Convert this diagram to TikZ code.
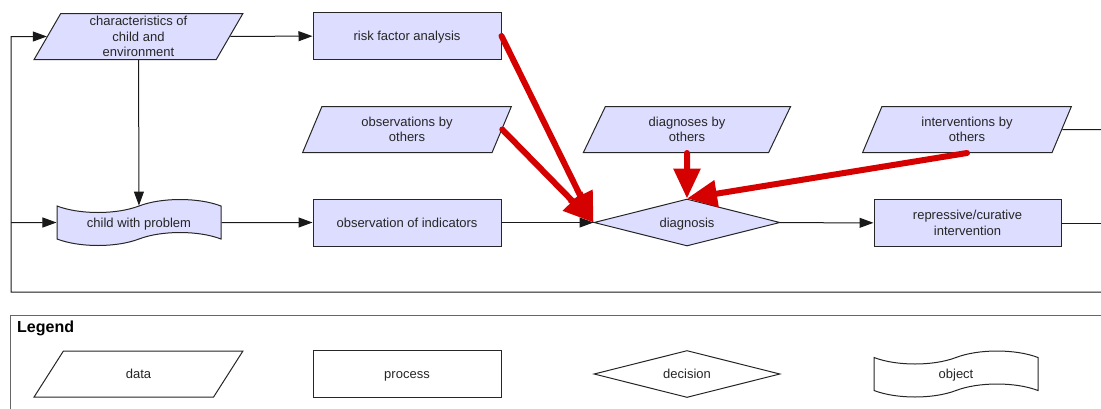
\documentclass[tikz,border=0pt]{standalone}
\usepackage{fontspec}
\setmainfont{Liberation Sans}
\usetikzlibrary{shapes.geometric,shapes.symbols,arrows.meta}
\definecolor{boxfill}{RGB}{221,221,255}
\definecolor{flowred}{RGB}{213,0,0}
\begin{document}
\begin{tikzpicture}[x=1pt,y=-1pt,
  every node/.style={font=\fontsize{13}{15.5}\selectfont, text=black!85, inner sep=0pt, align=center},
  oneline/.style={text height=10.5pt, text depth=1.5pt},
  shapeline/.style={draw=black!85, line width=1pt},
  datashape/.style={shapeline, trapezium, trapezium left angle=67.6, trapezium right angle=112.4,
    trapezium stretches=true, minimum width=209pt, minimum height=46pt},
  processshape/.style={shapeline, rectangle, minimum width=188pt, minimum height=47pt},
  decisionshape/.style={shapeline, diamond, aspect=4, minimum width=186pt, minimum height=47pt},
  objectshape/.style={shapeline, tape, tape bend top=in and out, tape bend bottom=in and out,
    tape bend height=13pt, minimum width=164pt, minimum height=46pt},
  filled/.style={fill=boxfill},
  blank/.style={fill=white},
  flow/.style={draw=black!90, line width=1pt, -{Triangle[length=14pt,width=10pt]}},
  plain/.style={draw=black!90, line width=1pt},
  redflow/.style={draw=flowred, line width=6pt, line cap=round, -{Triangle[length=30pt,width=26pt]}}
]
\useasboundingbox (0,0) rectangle (1101,408);
\clip (0,0) rectangle (1101,408);

% main flow
\node[datashape, filled] (char) at (138.5,36.5) {characteristics of\\child and\\environment};
\node[processshape, filled, oneline] (risk) at (407,36) {risk factor analysis};
\node[datashape, filled] (obsoth) at (407,129.5) {observations by\\others};
\node[datashape, filled] (diagoth) at (687,129.5) {diagnoses by\\others};
\node[datashape, filled] (intoth) at (967,129.5) {interventions by\\others};
\node[objectshape, filled, oneline] (child) at (139,222.5) {child with problem};
\node[processshape, filled, oneline] (obsind) at (407,222.5) {observation of indicators};
\node[decisionshape, filled, oneline] (diag) at (687,222.5) {diagnosis};
\node[processshape, filled, minimum width=187pt] (rep) at (967.5,223) {repressive/curative\\intervention};

% feedback loop and open ends
\coordinate (loopR) at (1101,292);
\coordinate (loopBL) at (11,292);
\coordinate (loopTL) at (11,36.5);
\coordinate (loopML) at (11,222.5);
\coordinate (intOut) at (1101,129.5);
\coordinate (repOut) at (1101,223);

\draw[flow] (loopR) -- (loopBL) -- (loopTL) -- (char);
\draw[flow] (loopML) -- (child);
\draw[flow] (char) -- (risk);
\draw[flow] (char) -- (child);
\draw[flow] (child) -- (obsind);
\draw[flow] (obsind) -- (diag);
\draw[flow] (diag) -- (rep);
\draw[plain] (rep) -- (repOut);
\draw[plain] (intoth) -- (intOut);

% inputs to the diagnosis
\draw[redflow] (risk.east) -- (diag.west);
\draw[redflow] (obsoth.east) -- (diag.west);
\draw[redflow] (diagoth.south) -- (diag.north);
\draw[redflow] (intoth.south) -- (diag.north);

% legend
\draw[draw=black!60, line width=1pt] (10,315) rectangle (1120,430);
\node[font=\fontsize{16}{18}\selectfont\bfseries, text=black, anchor=base west] (legtitle) at (17,332) {Legend};
\node[datashape, blank, oneline] (legdata) at (138.5,374) {data};
\node[processshape, blank, oneline] (legproc) at (407,374) {process};
\node[decisionshape, blank, oneline] (legdec) at (687,374) {decision};
\node[objectshape, blank, oneline] (legobj) at (956,374) {object};
\end{tikzpicture}
\end{document}
